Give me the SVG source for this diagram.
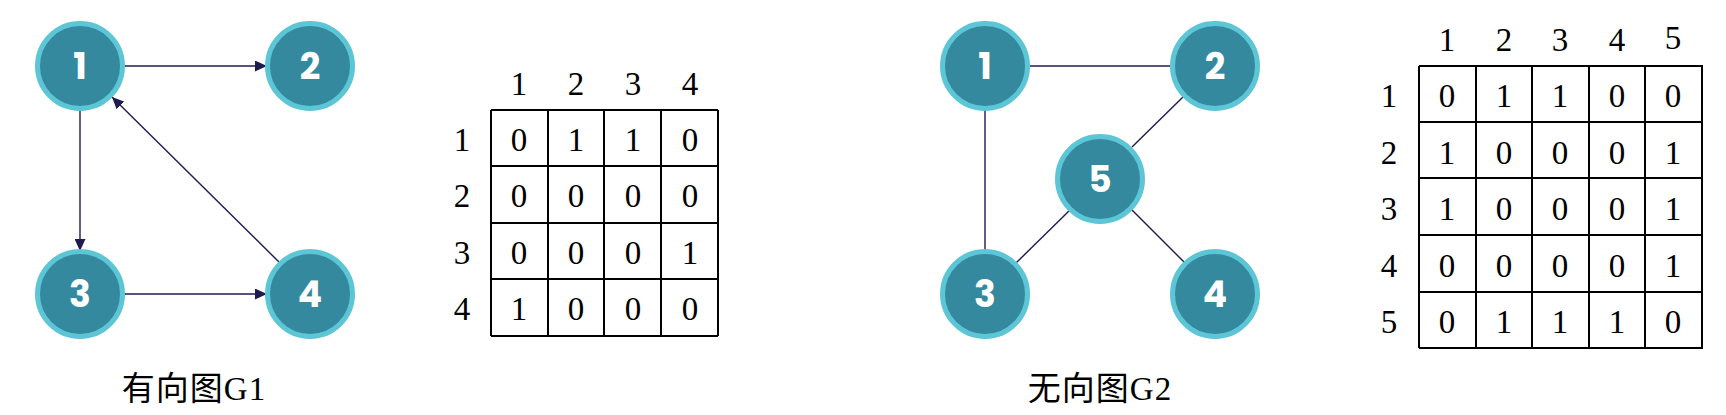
<svg xmlns="http://www.w3.org/2000/svg" width="1726" height="415" viewBox="0 0 1726 415">
<style>
.node circle{fill:#35899f;stroke:#5cc6d6;stroke-width:5}
.node text{font-family:Poppins,"Open Sans",Roboto,sans-serif;font-weight:700;font-size:36px;fill:#fff;text-anchor:middle}
.edge{stroke:#1d1b50;stroke-width:1.4;fill:none}
.grid{stroke:#000;stroke-width:2;fill:none}
.num{font-family:"Liberation Serif","Times New Roman",serif;font-size:33px;fill:#000;text-anchor:middle}
.cap{font-family:"Liberation Serif","Noto Sans CJK SC",serif;font-size:33px;fill:#000;text-anchor:middle}
</style>
<defs>
<marker id="arr" markerUnits="userSpaceOnUse" markerWidth="13" markerHeight="11" refX="12" refY="5.5" orient="auto">
<path d="M0,0 L12,5.5 L0,11 Z" fill="#1d1b50"/>
</marker>
</defs>
<rect width="1726" height="415" fill="#fff"/>
<g id="connectors">
<line class="edge" x1="123" y1="66" x2="267" y2="66" marker-end="url(#arr)"/>
<line class="edge" x1="80" y1="108" x2="80" y2="251" marker-end="url(#arr)"/>
<line class="edge" x1="123" y1="294" x2="267" y2="294" marker-end="url(#arr)"/>
<line class="edge" x1="279" y1="262" x2="112" y2="97" marker-end="url(#arr)"/>
<line class="edge" x1="1028" y1="66" x2="1172" y2="66"/>
<line class="edge" x1="985" y1="108" x2="985" y2="252"/>
<line class="edge" x1="1184" y1="96" x2="1132" y2="147"/>
<line class="edge" x1="1071" y1="209" x2="1016" y2="263"/>
<line class="edge" x1="1131" y1="209" x2="1185" y2="263"/>
</g>
<g id="g1-n1" class="node"><circle cx="80" cy="66" r="42.5"/><text x="80" y="78.5">1</text></g>
<g id="g1-n2" class="node"><circle cx="310" cy="66" r="42.5"/><text x="310" y="78.5">2</text></g>
<g id="g1-n3" class="node"><circle cx="80" cy="294" r="42.5"/><text x="80" y="306.5">3</text></g>
<g id="g1-n4" class="node"><circle cx="310" cy="294" r="42.5"/><text x="310" y="306.5">4</text></g>
<g id="g2-n1" class="node"><circle cx="985" cy="66" r="42.5"/><text x="985" y="78.5">1</text></g>
<g id="g2-n2" class="node"><circle cx="1215" cy="66" r="42.5"/><text x="1215" y="78.5">2</text></g>
<g id="g2-n5" class="node"><circle cx="1100" cy="179" r="42.5"/><text x="1100" y="191.5">5</text></g>
<g id="g2-n3" class="node"><circle cx="985" cy="294" r="42.5"/><text x="985" y="306.5">3</text></g>
<g id="g2-n4" class="node"><circle cx="1215" cy="294" r="42.5"/><text x="1215" y="306.5">4</text></g>
<text id="cap1" class="cap" x="194" y="400" letter-spacing="1">有向图G1</text>
<text id="cap2" class="cap" x="1100" y="400" letter-spacing="1">无向图G2</text>
<g id="matrix1">
<path class="grid" d="M491,110H718M491,166H718M491,223H718M491,279H718M491,336H718M491,110V336M548,110V336M604,110V336M661,110V336M718,110V336"/>
<g class="num">
<text x="519" y="95">1</text><text x="576" y="95">2</text><text x="633" y="95">3</text><text x="690" y="95">4</text>
<text x="462" y="151">1</text><text x="462" y="207">2</text><text x="462" y="264">3</text><text x="462" y="320">4</text>
<text x="519" y="151">0</text><text x="576" y="151">1</text><text x="633" y="151">1</text><text x="690" y="151">0</text>
<text x="519" y="207">0</text><text x="576" y="207">0</text><text x="633" y="207">0</text><text x="690" y="207">0</text>
<text x="519" y="264">0</text><text x="576" y="264">0</text><text x="633" y="264">0</text><text x="690" y="264">1</text>
<text x="519" y="320">1</text><text x="576" y="320">0</text><text x="633" y="320">0</text><text x="690" y="320">0</text>
</g>
</g>
<g id="matrix2">
<path class="grid" d="M1419,66H1702M1419,122H1702M1419,178H1702M1419,235H1702M1419,292H1702M1419,348H1702M1419,66V348M1476,66V348M1532,66V348M1589,66V348M1645,65V349M1702,65V349"/>
<g class="num">
<text x="1447" y="51">1</text><text x="1504" y="51">2</text><text x="1560" y="51">3</text><text x="1617" y="51">4</text><text x="1673" y="49">5</text>
<text x="1389" y="107">1</text><text x="1389" y="164">2</text><text x="1389" y="220">3</text><text x="1389" y="277">4</text><text x="1389" y="333">5</text>
<text x="1447" y="107">0</text><text x="1504" y="107">1</text><text x="1560" y="107">1</text><text x="1617" y="107">0</text><text x="1673" y="107">0</text>
<text x="1447" y="164">1</text><text x="1504" y="164">0</text><text x="1560" y="164">0</text><text x="1617" y="164">0</text><text x="1673" y="164">1</text>
<text x="1447" y="220">1</text><text x="1504" y="220">0</text><text x="1560" y="220">0</text><text x="1617" y="220">0</text><text x="1673" y="220">1</text>
<text x="1447" y="277">0</text><text x="1504" y="277">0</text><text x="1560" y="277">0</text><text x="1617" y="277">0</text><text x="1673" y="277">1</text>
<text x="1447" y="333">0</text><text x="1504" y="333">1</text><text x="1560" y="333">1</text><text x="1617" y="333">1</text><text x="1673" y="333">0</text>
</g>
</g>
</svg>
